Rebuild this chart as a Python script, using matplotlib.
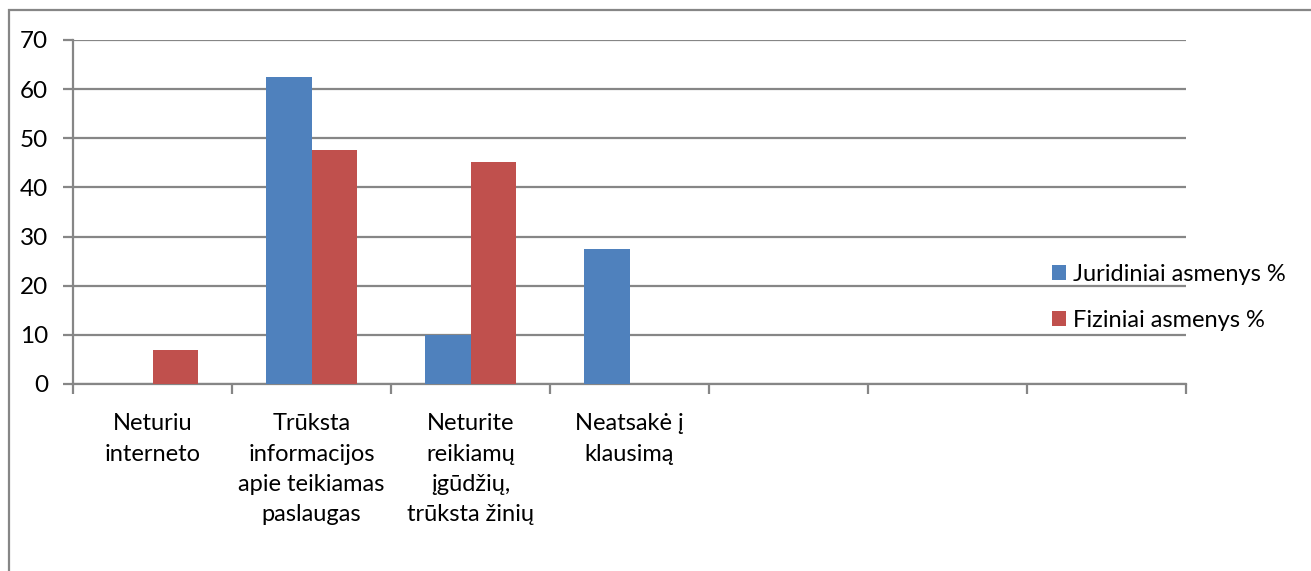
import matplotlib.pyplot as plt
import numpy as np
from matplotlib.patches import Rectangle

categories = ["Neturiu\ninterneto",
              "Trūksta\ninformacijos\napie teikiamas\npaslaugas",
              "Neturite\nreikiamų\nįgūdžių,\ntrūksta žinių",
              "Neatsakė į\nklausimą",
              "", "", ""]
juridiniai = [0, 62.5, 10, 27.5, 0, 0, 0]
fiziniai = [7, 47.6, 45.2, 0, 0, 0, 0]
series_names = ["Juridiniai asmenys %", "Fiziniai asmenys %"]

plt.rcParams['font.family'] = ['Lato', 'DejaVu Sans']
grey = "#868686"

fig = plt.figure(figsize=(13.11, 5.71), dpi=100)
ax = fig.add_axes([73 / 1311, 1 - 384 / 571, (1186 - 73) / 1311, (384 - 40) / 571])

x = np.arange(len(categories))
w = 1 / 3.5
ax.bar(x - w / 2, juridiniai, w, color="#4F81BD", label=series_names[0], zorder=3)
ax.bar(x + w / 2, fiziniai, w, color="#C0504D", label=series_names[1], zorder=3)

ax.set_xlim(-0.5, len(categories) - 0.5)
ax.set_ylim(0, 70)
ax.set_yticks(range(0, 71, 10))
ax.yaxis.grid(True, color=grey, linewidth=1.6, zorder=0)

# category labels sit between the boundary ticks
ax.set_xticks(np.arange(len(categories) + 1) - 0.5)
ax.set_xticklabels([])
ax.set_xticks(x, minor=True)
ax.set_xticklabels(categories, minor=True, fontsize=17, va="top")
for tick in ax.xaxis.get_minor_ticks():
    tick.label1.set_linespacing(1.55)
ax.tick_params(axis="x", which="minor", length=0, pad=21)
ax.tick_params(axis="x", which="major", length=7, width=1.6, color=grey)
ax.tick_params(axis="y", length=7, width=1.6, color=grey, labelsize=17.5, pad=11)

for side in ["top", "right"]:
    ax.spines[side].set_visible(False)
for side in ["left", "bottom"]:
    ax.spines[side].set_color(grey)
    ax.spines[side].set_linewidth(1.6)

leg = fig.legend(loc="upper left", bbox_to_anchor=(1040 / 1311, 1 - 252 / 571),
                 frameon=False, fontsize=17, handlelength=0.6, handleheight=0.6,
                 handletextpad=0.3, labelspacing=1.05, borderpad=0)

# chart area border
fig.patches.append(Rectangle((8.5 / 1311, -0.1), 1.2, 1 - 10 / 571 + 0.1,
                             transform=fig.transFigure, fill=False,
                             edgecolor=grey, linewidth=1.6))

fig.savefig("out.png", dpi=100)
